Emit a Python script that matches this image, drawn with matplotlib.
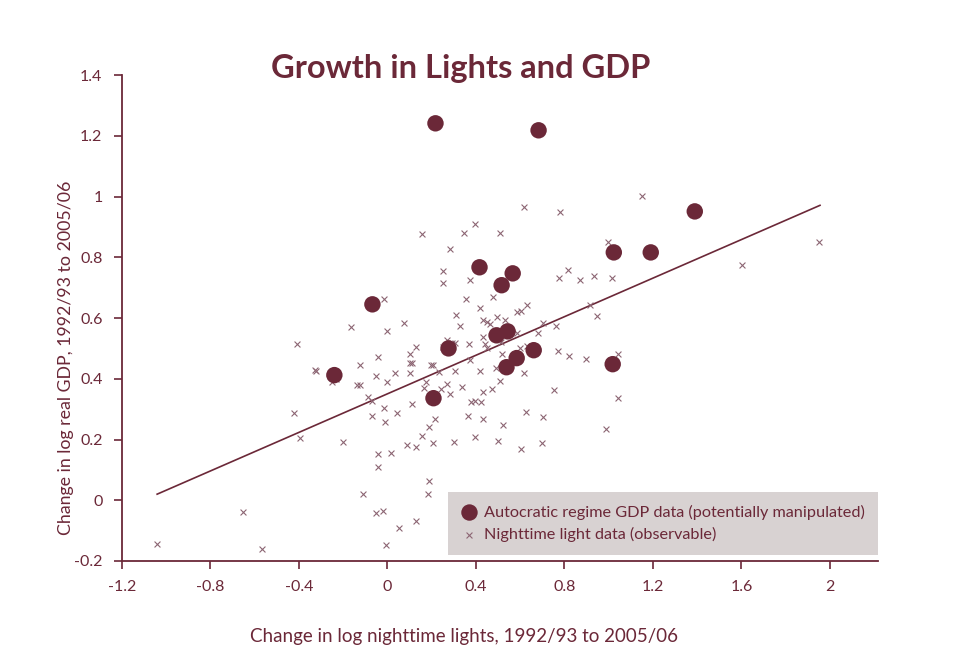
import matplotlib
matplotlib.use("Agg")
import matplotlib.pyplot as plt
import numpy as np

# autocratic regime points (big circles)
auto_x = [0.217, 0.683, 1.389, 1.023, 1.190, 0.416, 0.566, 0.516, -0.068, 0.276,
          0.493, 0.543, 0.538, 0.584, 0.661, 1.018, -0.240, 0.208]
auto_y = [1.241, 1.218, 0.951, 0.816, 0.816, 0.767, 0.747, 0.708, 0.645, 0.500,
          0.543, 0.556, 0.438, 0.468, 0.494, 0.448, 0.412, 0.336]

# nighttime light points (crosses)
light_x = [-1.041, -0.652, -0.566, -0.407, -0.421, -0.394, -0.321, -0.326, -0.249, -0.231,
           -0.199, -0.167, -0.136, -0.122, -0.122, -0.109, -0.086, -0.072, -0.072, -0.054,
           -0.045, -0.045, -0.045, -0.054, -0.018, -0.014, -0.014, -0.009, -0.005, 0.0,
           0.0, 0.014, 0.032, 0.045, 0.050, 0.077, 0.100, 0.109, 0.104, 0.104,
           0.127, 0.113, 0.127, 0.131, 0.090, 0.158, 0.167, 0.176, 0.181, 0.186,
           0.158, 0.186, 0.213, 0.208, 0.195, 0.204, 0.235, 0.244, 0.267, 0.281,
           0.253, 0.253, 0.281, 0.299, 0.303, 0.312, 0.326, 0.339, 0.344, 0.362,
           0.367, 0.371, 0.376, 0.394, 0.425, 0.394, 0.394, 0.416, 0.416, 0.430,
           0.448, 0.462, 0.430, 0.430, 0.439, 0.448, 0.430, 0.471, 0.489, 0.493,
           0.498, 0.507, 0.507, 0.511, 0.516, 0.520, 0.529, 0.584, 0.584, 0.602,
           0.629, 0.597, 0.629, 0.602, 0.615, 0.615, 0.624, 0.679, 0.701, 0.701,
           0.697, 0.751, 0.760, 0.769, 0.774, 0.778, 0.814, 0.819, 0.869, 0.896,
           0.914, 0.932, 0.946, 0.986, 0.995, 1.014, 1.041, 1.041, 1.149, 1.602,
           1.950, 0.353, 0.371, 0.475, 0.267, 0.290, 0.303, 0.253]
light_y = [-0.145, -0.040, -0.161, 0.514, 0.286, 0.204, 0.425, 0.428, 0.388, 0.398,
           0.191, 0.570, 0.379, 0.379, 0.444, 0.020, 0.339, 0.326, 0.277, 0.408,
           0.471, 0.151, 0.109, -0.043, -0.036, 0.662, 0.303, 0.257, -0.148, 0.556,
           0.388, 0.155, 0.418, 0.286, -0.092, 0.583, 0.451, 0.451, 0.418, 0.481,
           0.504, 0.316, -0.069, 0.174, 0.181, 0.876, 0.369, 0.388, 0.020, 0.063,
           0.211, 0.240, 0.267, 0.188, 0.444, 0.444, 0.421, 0.365, 0.382, 0.349,
           0.756, 0.714, 0.826, 0.191, 0.425, 0.609, 0.573, 0.372, 0.879, 0.277,
           0.514, 0.461, 0.323, 0.326, 0.323, 0.207, 0.909, 0.425, 0.632, 0.593,
           0.586, 0.579, 0.356, 0.267, 0.514, 0.500, 0.537, 0.365, 0.435, 0.602,
           0.194, 0.879, 0.392, 0.520, 0.481, 0.247, 0.593, 0.550, 0.619, 0.622,
           0.642, 0.500, 0.507, 0.168, 0.965, 0.418, 0.290, 0.550, 0.583, 0.273,
           0.188, 0.362, 0.573, 0.491, 0.731, 0.948, 0.757, 0.474, 0.724, 0.464,
           0.642, 0.737, 0.606, 0.234, 0.849, 0.731, 0.481, 0.336, 1.001, 0.774,
           0.849, 0.662, 0.724, 0.668, 0.527, 0.517, 0.517, 0.504]

# fitted line end points
fit_x = [-1.041, 1.955]
fit_y = [0.020, 0.971]

x_ticks = [-1.2, -0.8, -0.4, 0, 0.4, 0.8, 1.2, 1.6, 2]
x_tick_labels = ["-1.2", "-0.8", "-0.4", "0", "0.4", "0.8", "1.2", "1.6", "2"]
y_ticks = [-0.2, 0, 0.2, 0.4, 0.6, 0.8, 1, 1.2, 1.4]
y_tick_labels = ["-0.2", "0", "0.2", "0.4", "0.6", "0.8", "1", "1.2", "1.4"]

maroon = "#6b2838"
cross_col = "#8c6573"

plt.rcParams["font.family"] = ["Lato", "DejaVu Sans"]

fig = plt.figure(figsize=(9.71, 6.49), dpi=100)
ax = fig.add_axes([0.1256, 0.1356, 0.7786, 0.7488])

ax.plot(fit_x, fit_y, color=maroon, lw=1.2, zorder=2)
ax.scatter(light_x, light_y, marker="x", s=18, linewidths=0.8, color=cross_col, zorder=3,
           label="Nighttime light data (observable)")
ax.scatter(auto_x, auto_y, marker="o", s=140, color=maroon, edgecolors="none", zorder=4,
           label="Autocratic regime GDP data (potentially manipulated)")

ax.set_xlim(-1.2, 2.217)
ax.set_ylim(-0.2, 1.4)
ax.set_xticks(x_ticks)
ax.set_xticklabels(x_tick_labels)
ax.set_yticks(y_ticks)
ax.set_yticklabels(y_tick_labels)

for s in ["top", "right"]:
    ax.spines[s].set_visible(False)
for s in ["left", "bottom"]:
    ax.spines[s].set_color(maroon)
    ax.spines[s].set_linewidth(1.3)
ax.tick_params(colors=maroon, labelcolor=maroon, labelsize=11.5, length=6, width=1.2, pad=8)

ax.set_xlabel("Change in log nighttime lights, 1992/93 to 2005/06", color=maroon,
              fontsize=13.5)
ax.xaxis.set_label_coords(0.453, -0.138)
ax.set_ylabel("Change in log real GDP, 1992/93 to 2005/06", color=maroon,
              fontsize=12.8)
ax.yaxis.set_label_coords(-0.064, 0.418)

fig.text(0.474, 0.895, "Growth in Lights and GDP", color=maroon, fontsize=23.5,
         fontweight="bold", ha="center", va="center")

handles, labels = ax.get_legend_handles_labels()
leg = ax.legend(handles[::-1], labels[::-1], loc="lower right", bbox_to_anchor=(1.0, 0.012),
                frameon=True, fancybox=False, fontsize=11.7, labelcolor=maroon,
                handletextpad=0.4, borderpad=0.8, labelspacing=0.45, handlelength=1.0,
                borderaxespad=0)
leg.get_frame().set_facecolor("#d8d2d2")
leg.get_frame().set_edgecolor("none")
leg.get_frame().set_alpha(1)

fig.savefig("out.png", dpi=100)
